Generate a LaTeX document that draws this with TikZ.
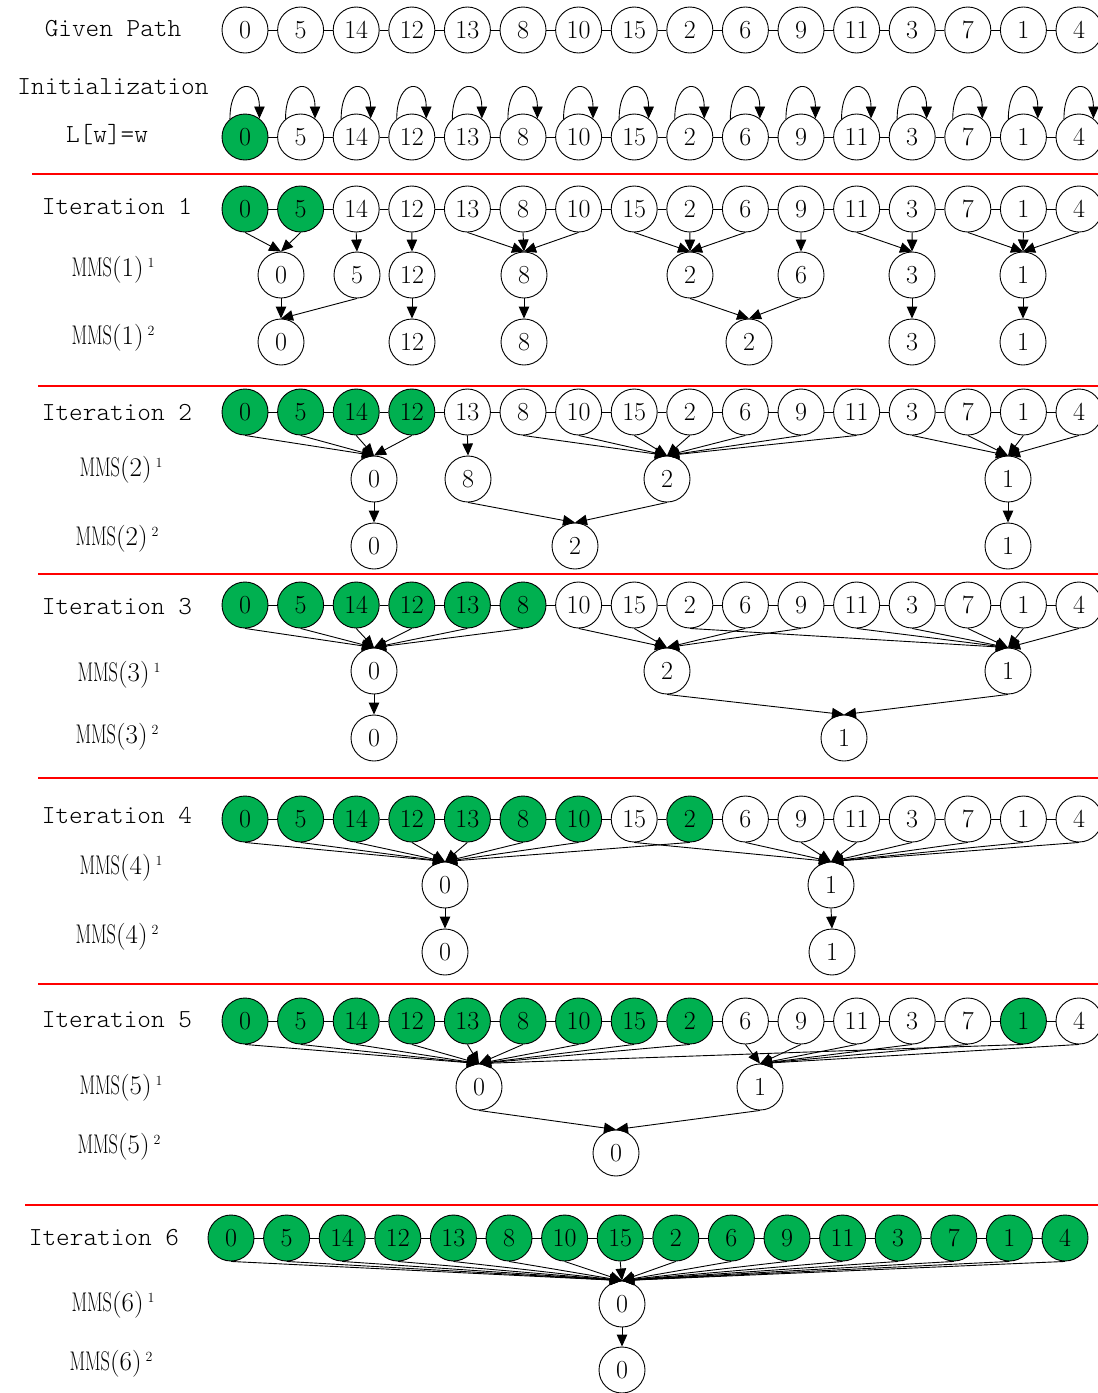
\documentclass[tikz,border=0pt]{standalone}
\usepackage{fontspec}
\usepackage{graphicx}
\usetikzlibrary{arrows.meta}
\newfontfamily\labelmono{lmmonolt10-regular.otf}
\definecolor{vgreen}{RGB}{0,176,80}
\tikzset{
  vtx/.style={circle, draw, line width=0.9pt, minimum size=46pt, inner sep=0pt,
    font=\fontsize{26}{28}\selectfont},
  link/.style={line width=0.9pt},
  arr/.style={line width=0.9pt, -{Triangle[length=12pt,width=10.5pt]}},
  sepline/.style={red, line width=1.3pt},
  lbl/.style={font=\labelmono\fontsize{26}{28}\selectfont, inner sep=0pt},
  mlbl/.style={font=\fontsize{27}{29}\selectfont, inner sep=0pt},
}
% MMS(k) with a level superscript
\newcommand{\mmslabel}[2]{\scalebox{0.68}[1]{MMS}(#1)\hspace{4pt}\raisebox{9pt}{\fontsize{14}{14}\selectfont #2}}
% one row of the path: #1 name prefix, #2 y, #3 x of first vertex, #4 indices filled green
\newcommand{\pathrow}[4]{%
  \foreach \v [count=\i from 0] in {0,5,14,12,13,8,10,15,2,6,9,11,3,7,1,4} {%
    \gdef\vtxfill{white}%
    \foreach \g in {#4} {\ifnum\g=\i\relax\gdef\vtxfill{vgreen}\fi}%
    \node[vtx, fill=\vtxfill] (#1-\i) at ({#3+55.6*\i},#2) {\v};
  }
  \foreach \i [evaluate=\i as \j using {int(\i+1)}] in {0,...,14} {\draw[link] (#1-\i) -- (#1-\j);}
}
% arrows from several path vertices to one node
\newcommand{\fan}[3]{\foreach \k in {#2} {\draw[arr] (#1-\k.south) -- (#3.north);}}

\begin{document}
\begin{tikzpicture}[x=1pt,y=-1pt]
\useasboundingbox (0,0) rectangle (1098,1393);
\fill[white] (0,0) rectangle (1098,1393);

% left column labels
\node[lbl] (tgiven) at (113,29) {Given Path};
\node[lbl] (tinit) at (113,87) {Initialization};
\node[lbl] (tlw) at (107,135) {L[w]=w};
\node[lbl] (tit1) at (117,206) {Iteration 1};
\node[mlbl] (tm1a) at (113,270) {\mmslabel{1}{1}};
\node[mlbl] (tm1b) at (113,338) {\mmslabel{1}{2}};
\node[lbl] (tit2) at (117,412) {Iteration 2};
\node[mlbl] (tm2a) at (121,470) {\mmslabel{2}{1}};
\node[mlbl] (tm2b) at (117,539) {\mmslabel{2}{2}};
\node[lbl] (tit3) at (117,607) {Iteration 3};
\node[mlbl] (tm3a) at (119,675) {\mmslabel{3}{1}};
\node[mlbl] (tm3b) at (117,737) {\mmslabel{3}{2}};
\node[lbl] (tit4) at (117,815) {Iteration 4};
\node[mlbl] (tm4a) at (121,868) {\mmslabel{4}{1}};
\node[mlbl] (tm4b) at (117,937) {\mmslabel{4}{2}};
\node[lbl] (tit5) at (117,1020) {Iteration 5};
\node[mlbl] (tm5a) at (121,1088) {\mmslabel{5}{1}};
\node[mlbl] (tm5b) at (119,1147) {\mmslabel{5}{2}};
\node[lbl] (tit6) at (104,1238) {Iteration 6};
\node[mlbl] (tm6a) at (113,1305) {\mmslabel{6}{1}};
\node[mlbl] (tm6b) at (111,1364) {\mmslabel{6}{2}};

% separators
\coordinate (s1l) at (32,174);   \coordinate (s1r) at (1098,174);
\coordinate (s2l) at (38,386);   \coordinate (s2r) at (1098,386);
\coordinate (s3l) at (38,574);   \coordinate (s3r) at (1098,574);
\coordinate (s4l) at (38,778);   \coordinate (s4r) at (1098,778);
\coordinate (s5l) at (38,984);   \coordinate (s5r) at (1098,984);
\coordinate (s6l) at (25,1205);  \coordinate (s6r) at (1098,1205);
\foreach \s in {1,...,6} {\draw[sepline] (s\s l) -- (s\s r);}

% given path and initialisation
\pathrow{g}{30}{245}{-1}
\pathrow{p0}{137}{245}{0}
\foreach \i in {0,...,15} {\draw[arr] (p0-\i.130) .. controls +(0,-42) and +(0,-40) .. (p0-\i.52);}

% iteration 1
\pathrow{p1}{209}{245}{0,1}
\node[vtx] (i1a0) at (281,275) {0};
\node[vtx] (i1a5) at (357,275) {5};
\node[vtx] (i1a12) at (412,275) {12};
\node[vtx] (i1a8) at (524,275) {8};
\node[vtx] (i1a2) at (690,275) {2};
\node[vtx] (i1a6) at (801,275) {6};
\node[vtx] (i1a3) at (912,275) {3};
\node[vtx] (i1a1) at (1023,275) {1};
\node[vtx] (i1b0) at (281,342) {0};
\node[vtx] (i1b12) at (412,342) {12};
\node[vtx] (i1b8) at (524,342) {8};
\node[vtx] (i1b2) at (749,342) {2};
\node[vtx] (i1b3) at (912,342) {3};
\node[vtx] (i1b1) at (1023,342) {1};
\fan{p1}{0,1}{i1a0}
\fan{p1}{2}{i1a5}
\fan{p1}{3}{i1a12}
\fan{p1}{4,5,6}{i1a8}
\fan{p1}{7,8,9}{i1a2}
\fan{p1}{10}{i1a6}
\fan{p1}{11,12}{i1a3}
\fan{p1}{13,14,15}{i1a1}
\draw[arr] (i1a0.south) -- (i1b0.north);
\draw[arr] (i1a5.south) -- (i1b0.north);
\draw[arr] (i1a12.south) -- (i1b12.north);
\draw[arr] (i1a8.south) -- (i1b8.north);
\draw[arr] (i1a2.south) -- (i1b2.north);
\draw[arr] (i1a6.south) -- (i1b2.north);
\draw[arr] (i1a3.south) -- (i1b3.north);
\draw[arr] (i1a1.south) -- (i1b1.north);

% iteration 2
\pathrow{p2}{412}{245}{0,1,2,3}
\node[vtx] (i2a0) at (374,479) {0};
\node[vtx] (i2a8) at (468,479) {8};
\node[vtx] (i2a2) at (667,479) {2};
\node[vtx] (i2a1) at (1008,479) {1};
\node[vtx] (i2b0) at (374,546) {0};
\node[vtx] (i2b2) at (575,546) {2};
\node[vtx] (i2b1) at (1008,546) {1};
\fan{p2}{0,1,2,3}{i2a0}
\fan{p2}{4}{i2a8}
\fan{p2}{5,6,7,8,9,10,11}{i2a2}
\fan{p2}{12,13,14,15}{i2a1}
\draw[arr] (i2a0.south) -- (i2b0.north);
\draw[arr] (i2a8.south) -- (i2b2.north);
\draw[arr] (i2a2.south) -- (i2b2.north);
\draw[arr] (i2a1.south) -- (i2b1.north);

% iteration 3
\pathrow{p3}{605}{245}{0,1,2,3,4,5}
\node[vtx] (i3a0) at (374,671) {0};
\node[vtx] (i3a2) at (667,671) {2};
\node[vtx] (i3a1) at (1008,671) {1};
\node[vtx] (i3b0) at (374,738) {0};
\node[vtx] (i3b1) at (844,738) {1};
\fan{p3}{0,1,2,3,4,5}{i3a0}
\fan{p3}{6,7,9,10}{i3a2}
\fan{p3}{8,11,12,13,14,15}{i3a1}
\draw[arr] (i3a0.south) -- (i3b0.north);
\draw[arr] (i3a2.south) -- (i3b1.north);
\draw[arr] (i3a1.south) -- (i3b1.north);

% iteration 4
\pathrow{p4}{819}{245}{0,1,2,3,4,5,6,8}
\node[vtx] (i4a0) at (445,885) {0};
\node[vtx] (i4a1) at (831,885) {1};
\node[vtx] (i4b0) at (445,952) {0};
\node[vtx] (i4b1) at (832,952) {1};
\fan{p4}{0,1,2,3,4,5,6,8}{i4a0}
\fan{p4}{7,9,10,11,12,13,14,15}{i4a1}
\draw[arr] (i4a0.south) -- (i4b0.north);
\draw[arr] (i4a1.south) -- (i4b1.north);

% iteration 5
\pathrow{p5}{1021}{245}{0,1,2,3,4,5,6,7,8,14}
\node[vtx] (i5a0) at (479,1087) {0};
\node[vtx] (i5a1) at (760,1087) {1};
\node[vtx] (i5b0) at (616,1153) {0};
\fan{p5}{0,1,2,3,4,5,6,7,8,14}{i5a0}
\fan{p5}{9,10,11,12,13,15}{i5a1}
\draw[arr] (i5a0.south) -- (i5b0.north);
\draw[arr] (i5a1.south) -- (i5b0.north);

% iteration 6
\pathrow{p6}{1238}{231}{0,1,2,3,4,5,6,7,8,9,10,11,12,13,14,15}
\node[vtx] (i6a0) at (622,1304) {0};
\node[vtx] (i6b0) at (622,1370) {0};
\fan{p6}{0,1,2,3,4,5,6,7,8,9,10,11,12,13,14,15}{i6a0}
\draw[arr] (i6a0.south) -- (i6b0.north);
\end{tikzpicture}
\end{document}
